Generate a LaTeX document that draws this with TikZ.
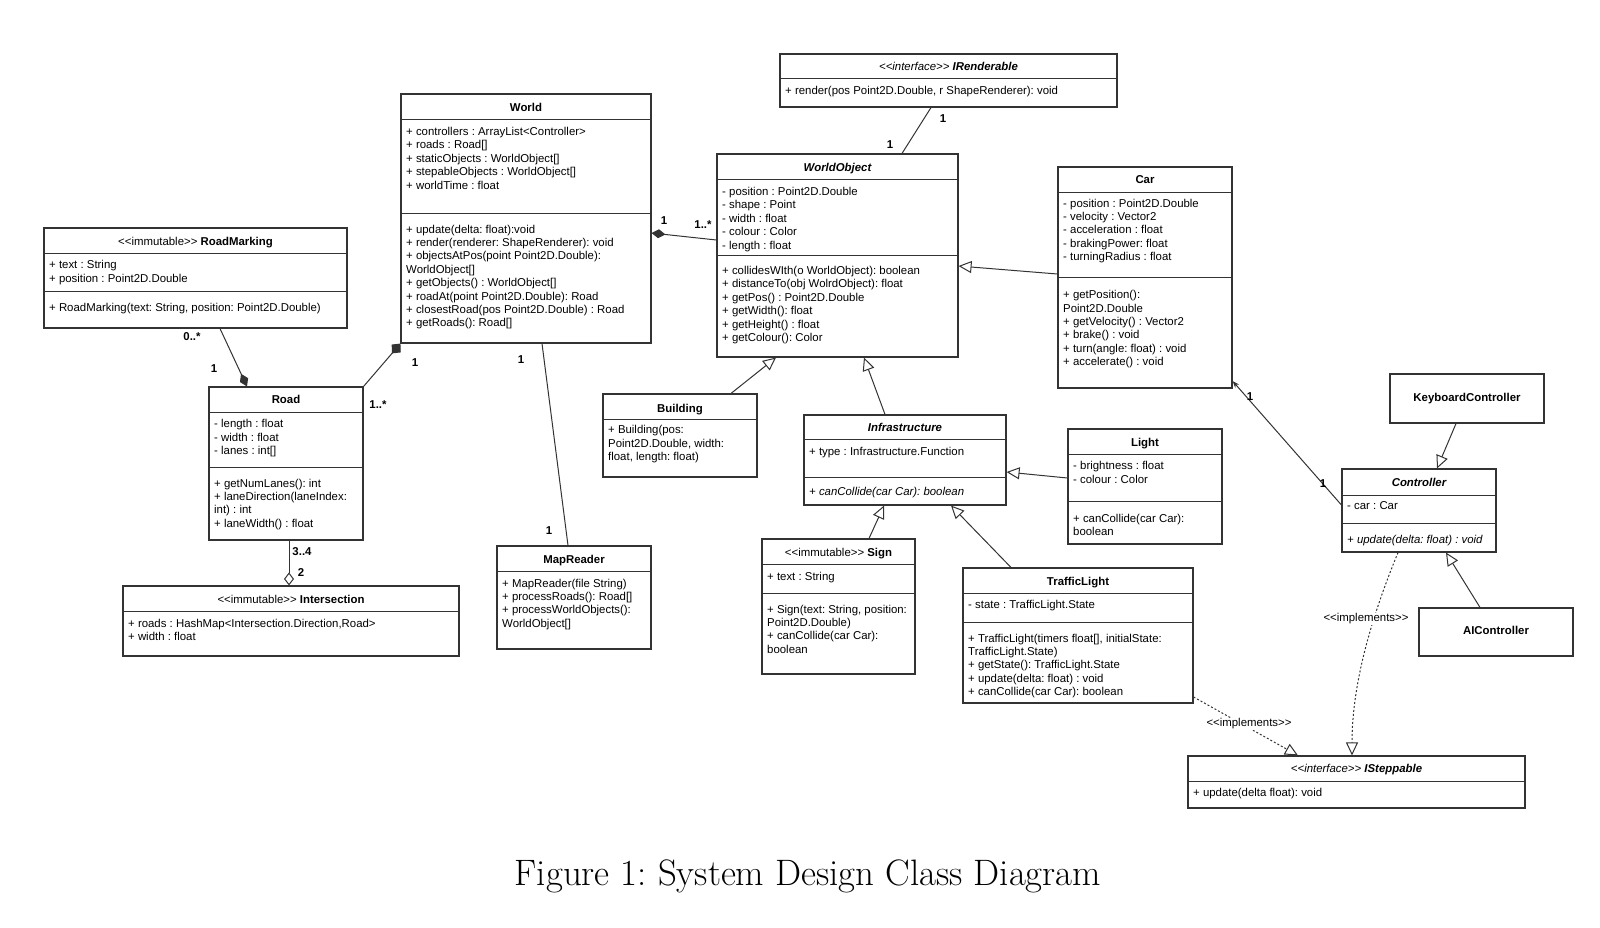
\documentclass[tikz,border=0pt]{standalone}
\usepackage{fontspec}
\newfontfamily\diagfont[Ligatures=TeXOff]{Liberation Sans}
\usetikzlibrary{arrows.meta,fit}
\definecolor{lc}{HTML}{333333}
\frenchspacing
\newcommand\dgfont{\diagfont\fontsize{11.4}{13.4}\selectfont}
\newcommand\lines[1]{\begin{tabular}[t]{@{}l@{}}#1\end{tabular}}
\newcommand\umlcls[5]{\node[box, fit={(#2,#3) (#4,#5)}] (#1) {};}
\newcommand\umlsep[2]{\draw[sepline] (#1.west |- 0,#2) -- (#1.east |- 0,#2);}
\tikzset{
  box/.style={draw=lc, line width=1.1pt, inner sep=0pt},
  sepline/.style={draw=lc, line width=1pt},
  txt/.style={font=\dgfont, anchor=base west, inner sep=0pt, text=black},
  ttl/.style={font=\dgfont, anchor=base, inner sep=0pt, text=black},
  lbl/.style={font=\dgfont\bfseries, inner sep=0pt, text=black},
  conn/.style={draw=lc, line width=1pt},
  gen/.style={conn, -{Triangle[open,length=13pt,width=12pt]}},
  comp/.style={conn, -{Diamond[length=14pt,width=9pt]}},
  aggr/.style={conn, -{Diamond[open,length=13pt,width=10pt]}},
  real/.style={conn, dash pattern=on 2pt off 2pt, -{Triangle[open,length=13pt,width=12pt]}},
  nav/.style={conn, -{Stealth[length=7pt,width=5pt]}},
}
\begin{document}
\begin{tikzpicture}[x=1pt,y=-1pt]
\path[use as bounding box] (0,0) rectangle (1600,927);

% ---------- boxes ----------
\umlcls{rm}{44}{228}{347}{328}\umlsep{rm}{253}\umlsep{rm}{291}
\umlcls{road}{209}{387}{363}{540}\umlsep{road}{412}\umlsep{road}{467}
\umlcls{inter}{123}{586}{459}{656}\umlsep{inter}{611}
\umlcls{world}{401}{94}{651}{343}\umlsep{world}{119}\umlsep{world}{213}
\umlcls{irend}{780}{54}{1117}{107}\umlsep{irend}{78}
\umlcls{wobj}{717}{154}{958}{357}\umlsep{wobj}{179}\umlsep{wobj}{255}
\umlcls{car}{1058}{167}{1232}{388}\umlsep{car}{192}\umlsep{car}{277}
\umlcls{bldg}{603}{394}{757}{477}\umlsep{bldg}{419}
\umlcls{mapr}{497}{546}{651}{649}\umlsep{mapr}{571}
\umlcls{infra}{804}{415}{1006}{505}\umlsep{infra}{439}\umlsep{infra}{477}
\umlcls{light}{1068}{429}{1222}{544}\umlsep{light}{454}\umlsep{light}{501}
\umlcls{sign}{762}{539}{915}{674}\umlsep{sign}{564}\umlsep{sign}{593}
\umlcls{tl}{963}{568}{1193}{703}\umlsep{tl}{593}\umlsep{tl}{622}
\umlcls{kbc}{1390}{374}{1544}{423}
\umlcls{ctrl}{1342}{469}{1496}{552}\umlsep{ctrl}{495}\umlsep{ctrl}{523}
\umlcls{aic}{1419}{608}{1573}{656}
\umlcls{istep}{1188}{756}{1525}{808}\umlsep{istep}{781}

% ---------- texts ----------
% RoadMarking
\node[ttl] (rm-t) at (rm.north |- 0,245.4) {<<immutable>> \textbf{RoadMarking}};
\node[txt] (rm-a) at (49,268.7) {\lines{+ text : String\\+ position : Point2D.Double}};
\node[txt] (rm-o) at (49,311) {\lines{+ RoadMarking(text: String, position: Point2D.Double)}};
% Road
\node[ttl] (road-t) at (road.north |- 0,403.7) {\textbf{Road}};
\node[txt] (road-a) at (214,427.7) {\lines{- length : float\\- width : float\\- lanes : int[]}};
\node[txt] (road-o) at (214,487) {\lines{+ getNumLanes(): int\\+ laneDirection(laneIndex:\\int) : int\\+ laneWidth() : float}};
% Intersection
\node[ttl] (inter-t) at (inter.north |- 0,603) {<<immutable>> \textbf{Intersection}};
\node[txt] (inter-a) at (128,627) {\lines{+ roads : HashMap<Intersection.Direction,Road>\\+ width : float}};
% World
\node[ttl] (world-t) at (world.north |- 0,111) {\textbf{World}};
\node[txt] (world-a) at (406,135.4) {\lines{+ controllers : ArrayList<Controller>\\+ roads : Road[]\\+ staticObjects : WorldObject[]\\+ stepableObjects : WorldObject[]\\+ worldTime : float}};
\node[txt] (world-o) at (406,233) {\lines{+ update(delta: float):void\\+ render(renderer: ShapeRenderer): void\\+ objectsAtPos(point Point2D.Double):\\WorldObject[]\\+ getObjects() : WorldObject[]\\+ roadAt(point Point2D.Double): Road\\+ closestRoad(pos Point2D.Double) : Road\\+ getRoads(): Road[]}};
% IRenderable
\node[ttl] (irend-t) at (irend.north |- 0,70.4) {\itshape <<interface>> \bfseries IRenderable};
\node[txt] (irend-o) at (785,94.4) {\lines{+ render(pos Point2D.Double, r ShapeRenderer): void}};
% WorldObject
\node[ttl] (wobj-t) at (wobj.north |- 0,171.4) {\bfseries\itshape WorldObject};
\node[txt] (wobj-a) at (722,195.4) {\lines{- position : Point2D.Double\\- shape : Point\\- width : float\\- colour : Color\\- length : float}};
\node[txt] (wobj-o) at (722,274.4) {\lines{+ collidesWIth(o WorldObject): boolean\\+ distanceTo(obj WolrdObject): float\\+ getPos() : Point2D.Double\\+ getWidth(): float\\+ getHeight() : float\\+ getColour(): Color}};
% Car
\node[ttl] (car-t) at (car.north |- 0,183.7) {\textbf{Car}};
\node[txt] (car-a) at (1063,207) {\lines{- position : Point2D.Double\\- velocity : Vector2\\- acceleration : float\\- brakingPower: float\\- turningRadius : float}};
\node[txt] (car-o) at (1063,298.7) {\lines{+ getPosition():\\Point2D.Double\\+ getVelocity() : Vector2\\+ brake() : void\\+ turn(angle: float) : void\\+ accelerate() : void}};
% Building
\node[ttl] (bldg-t) at (bldg.north |- 0,412) {\textbf{Building}};
\node[txt] (bldg-o) at (608,433.7) {\lines{+ Building(pos:\\Point2D.Double, width:\\float, length: float)}};
% MapReader
\node[ttl] (mapr-t) at (mapr.north |- 0,563) {\textbf{MapReader}};
\node[txt] (mapr-o) at (502,587) {\lines{+ MapReader(file String)\\+ processRoads(): Road[]\\+ processWorldObjects():\\WorldObject[]}};
% Infrastructure
\node[ttl] (infra-t) at (infra.north |- 0,431) {\bfseries\itshape Infrastructure};
\node[txt] (infra-a) at (809,455.4) {\lines{+ type : Infrastructure.Function}};
\node[txt] (infra-o) at (809,495.4) {\lines{\itshape + canCollide(car Car): boolean}};
% Light
\node[ttl] (light-t) at (light.north |- 0,446) {\textbf{Light}};
\node[txt] (light-a) at (1073,469.7) {\lines{- brightness : float\\- colour : Color}};
\node[txt] (light-o) at (1073,522) {\lines{+ canCollide(car Car):\\boolean}};
% Sign
\node[ttl] (sign-t) at (sign.north |- 0,556.4) {<<immutable>> \textbf{Sign}};
\node[txt] (sign-a) at (767,580.4) {\lines{+ text : String}};
\node[txt] (sign-o) at (767,613) {\lines{+ Sign(text: String, position:\\Point2D.Double)\\+ canCollide(car Car):\\boolean}};
% TrafficLight
\node[ttl] (tl-t) at (tl.north |- 0,585.4) {\textbf{TrafficLight}};
\node[txt] (tl-a) at (968,608.7) {\lines{- state : TrafficLight.State}};
\node[txt] (tl-o) at (968,642) {\lines{+ TrafficLight(timers float[], initialState:\\TrafficLight.State)\\+ getState(): TrafficLight.State\\+ update(delta: float) : void\\+ canCollide(car Car): boolean}};
% KeyboardController
\node[ttl] (kbc-t) at (kbc.center |- 0,401.4) {\textbf{KeyboardController}};
% Controller
\node[ttl] (ctrl-t) at (ctrl.north |- 0,486.4) {\bfseries\itshape Controller};
\node[txt] (ctrl-a) at (1347,509.7) {\lines{- car : Car}};
\node[txt] (ctrl-o) at (1347,543) {\lines{\itshape + update(delta: float) : void}};
% AIController
\node[ttl] (aic-t) at (aic.center |- 0,634.7) {\textbf{AIController}};
% ISteppable
\node[ttl] (istep-t) at (istep.north |- 0,772) {\itshape <<interface>> \bfseries ISteppable};
\node[txt] (istep-o) at (1193,796.4) {\lines{+ update(delta float): void}};

% ---------- connectors ----------
\draw[conn] (irend.south -| 931,0) -- (wobj.north -| 902,0);
\node[lbl] (m1) at (943,119) {1};
\node[lbl] (m2) at (890,145) {1};

\draw[comp] (wobj.west |- 0,240) -- (world.east |- 0,233);
\node[lbl] (m3) at (664,221) {1};
\node[lbl] (m4) at (703,225) {1..*};

\draw[conn, -{Diamond[length=13pt,width=12pt]}] (road.north east) -- (world.south west);
\node[lbl] (m5) at (415,363) {1};
\node[lbl] (m6) at (378,405) {1..*};

\draw[comp] (rm.south -| 220,0) -- (road.north -| 247,0);
\node[lbl] (m7) at (192,337) {0..*};
\node[lbl] (m8) at (214,369) {1};

\draw[aggr] (road.south -| 289,0) -- (inter.north -| 289,0);
\node[lbl] (m9) at (302,552) {3..4};
\node[lbl] (m10) at (301,573) {2};

\draw[conn] (world.south -| 542,0) -- (mapr.north -| 568,0);
\node[lbl] (m11) at (521,360) {1};
\node[lbl] (m12) at (549,531) {1};

\draw[gen] (bldg.north -| 731,0) -- (wobj.south -| 776,0);
\draw[gen] (infra.north -| 885,0) -- (wobj.south -| 864,0);
\draw[gen] (car.west |- 0,274) -- (wobj.east |- 0,266);
\draw[gen] (light.west |- 0,478) -- (infra.east |- 0,472);
\draw[gen] (sign.north -| 869,0) -- (infra.south -| 884,0);
\draw[gen] (tl.north -| 1011,0) -- (infra.south -| 951,0);
\draw[gen] (kbc.south -| 1456,0) -- (ctrl.north -| 1437,0);
\draw[gen] (aic.north -| 1480,0) -- (ctrl.south -| 1446,0);

\draw[nav] (ctrl.west |- 0,505) -- (car.east |- 0,381);
\node[lbl] (m13) at (1250,397) {1};
\node[lbl] (m14) at (1323,484) {1};

\draw[real] (ctrl.south -| 1398,0) .. controls (1362,640) and (1352,700) .. (istep.north -| 1352,0);
\node[font=\dgfont, fill=white, inner sep=1pt] (impl1) at (1366,619) {<<implements>>};
\draw[real] (tl.east |- 0,697) -- (istep.north -| 1298,0);
\node[font=\dgfont, fill=white, inner sep=1pt] (impl2) at (1249,724) {<<implements>>};

% ---------- caption ----------
\node[font=\fontsize{36.8}{44}\selectfont, inner sep=0pt] (cap) at (808,876) {Figure 1: System Design Class Diagram};
\end{tikzpicture}
\end{document}
